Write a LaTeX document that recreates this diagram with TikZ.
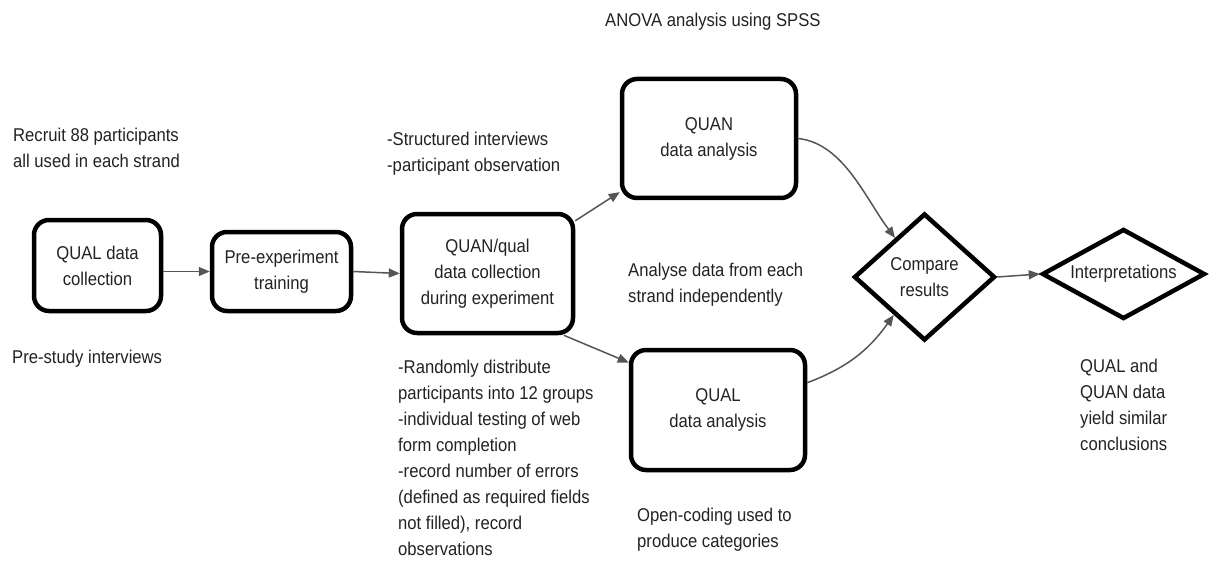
\documentclass[tikz,border=0pt]{standalone}
\usepackage{fontspec}
\setmainfont{Liberation Sans}[FakeStretch=0.9]
\usetikzlibrary{shapes.geometric,arrows.meta}
\definecolor{txt}{HTML}{222222}
\definecolor{arrowgray}{HTML}{555555}
\begin{document}
\begin{tikzpicture}[x=1pt,y=-1pt,
  every node/.style={font=\fontsize{18.5}{26}\selectfont, text=txt},
  box/.style={draw=black, line width=4.5pt, rounded corners=15pt, inner sep=0pt, align=center},
  dia/.style={diamond, draw=black, line width=4.5pt, inner sep=0pt, align=center},
  note/.style={anchor=north west, inner sep=0pt, align=left},
  conn/.style={draw=arrowgray, line width=1.5pt, -{Triangle[length=11pt,width=9pt]}}]
\useasboundingbox (0,0) rectangle (1212,564);

% boxes
\node[box, minimum width=127pt, minimum height=91pt] (qualcol) at (97.5,265.5) {QUAL data\\collection};
\node[box, minimum width=139pt, minimum height=79pt] (pretrain) at (281.5,271.5) {Pre-experiment\\training};
\node[box, minimum width=171pt, minimum height=119pt] (quanqual) at (487.5,273.5) {QUAN/qual\\data collection\\during experiment};
\node[box, minimum width=174pt, minimum height=119pt] (quanbox) at (709,138.5) {QUAN\\data analysis};
\node[box, minimum width=174pt, minimum height=120pt] (qualbox) at (718,410) {QUAL\\data analysis};
\node[dia, minimum width=141pt, minimum height=127pt] (compare) at (924.5,277) {Compare\\results};
\node[dia, aspect=1.75, minimum width=163pt, minimum height=90pt] (interp) at (1123.5,274) {Interpretations};

% notes
\node[note] (n1) at (13,128) {Recruit 88 participants\\all used in each strand};
\node[note] (n2) at (12,350) {Pre-study interviews};
\node[note] (n3) at (387,132) {-Structured interviews\\-participant observation};
\node[note] (n4) at (605,13) {ANOVA analysis using SPSS};
\node[note] (n5) at (628,263) {Analyse data from each\\strand independently};
\node[note] (n6) at (398,360) {-Randomly distribute\\participants into 12 groups\\-individual testing of web\\form completion\\-record number of errors\\(defined as required fields\\not filled), record\\observations};
\node[note] (n7) at (637,508) {Open-coding used to\\produce categories};
\node[note] (n8) at (1080,359) {QUAL and\\QUAN data\\yield similar\\conclusions};

% connectors
\draw[conn] (qualcol.east |- pretrain.west) -- (pretrain.west);
\draw[conn] (pretrain.east) -- (quanqual.west);
\draw[conn] (quanqual.31) -- (quanbox.211);
\draw[conn] (quanqual.-39) -- (qualbox.152);
\draw[conn] (quanbox.east) .. controls +(45,5) and +(-30,-40) .. (compare.127);
\draw[conn] (qualbox.17) .. controls +(40,-15) and +(-25,35) .. (compare.231);
\draw[conn] (compare.east) -- (interp.west);
\end{tikzpicture}
\end{document}
